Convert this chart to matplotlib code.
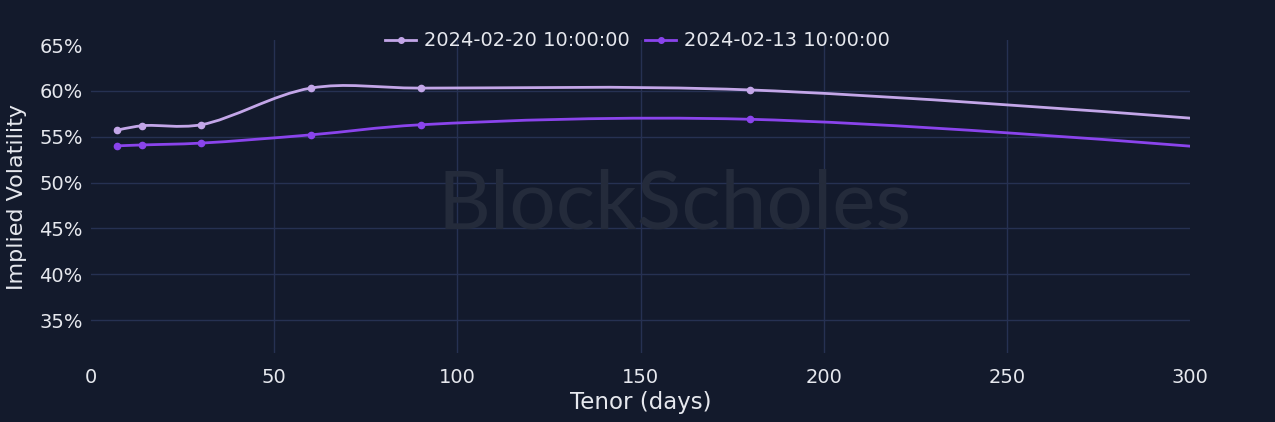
import numpy as np
import matplotlib
matplotlib.use("Agg")
import matplotlib.pyplot as plt
from matplotlib.path import Path
from matplotlib.patches import PathPatch
from matplotlib.lines import Line2D

# ---- data ----
tenor_days = [7, 14, 30, 60, 90, 180, 365]
iv_2024_02_20 = [0.557, 0.562, 0.563, 0.603, 0.603, 0.601, 0.550]
iv_2024_02_13 = [0.540, 0.541, 0.543, 0.552, 0.563, 0.569, 0.519]
series_labels = ["2024-02-20 10:00:00", "2024-02-13 10:00:00"]
y_ticks = [0.35, 0.40, 0.45, 0.50, 0.55, 0.60, 0.65]
x_ticks = [0, 50, 100, 150, 200, 250, 300]

BG = "#131a2c"
GRID = "#263152"
TXT = "#e6e8ee"
C_LIGHT = "#c3a6e8"
C_DARK = "#8a44ec"

fig = plt.figure(figsize=(12.75, 4.22), dpi=100, facecolor=BG)
ax = fig.add_axes([91/1275, 1 - 353/422, (1190-91)/1275, (353-40)/422])
ax.set_facecolor(BG)
ax.set_xlim(0, 300)
ax.set_ylim(0.314, 0.6555)

# pixel scale factors for spline tangents (plotly-like)
sx = (1190 - 91) / 300.0
sy = (353 - 40) / (0.6555 - 0.314)


def spline_path(xs, ys, smooth=1.0):
    pts = [(x * sx, y * sy) for x, y in zip(xs, ys)]

    def tangent(p0, p1, p2):
        d1x, d1y = p0[0] - p1[0], p0[1] - p1[1]
        d2x, d2y = p2[0] - p1[0], p2[1] - p1[1]
        d1a = (d1x * d1x + d1y * d1y) ** 0.25
        d2a = (d2x * d2x + d2y * d2y) ** 0.25
        numx = (d2a * d2a * d1x - d1a * d1a * d2x) * smooth
        numy = (d2a * d2a * d1y - d1a * d1a * d2y) * smooth
        den1 = 3 * d2a * (d1a + d2a)
        den2 = 3 * d1a * (d1a + d2a)
        return ((p1[0] + numx / den1, p1[1] + numy / den1),
                (p1[0] - numx / den2, p1[1] - numy / den2))

    tans = [tangent(pts[i - 1], pts[i], pts[i + 1]) for i in range(1, len(pts) - 1)]
    verts = [pts[0]]
    codes = [Path.MOVETO]
    verts += [tans[0][0], pts[1]]
    codes += [Path.CURVE3, Path.CURVE3]
    for i in range(2, len(pts) - 1):
        verts += [tans[i - 2][1], tans[i - 1][0], pts[i]]
        codes += [Path.CURVE4] * 3
    verts += [tans[-1][1], pts[-1]]
    codes += [Path.CURVE3, Path.CURVE3]
    verts = [(x / sx, y / sy) for x, y in verts]
    return Path(verts, codes)


# grid
for yt in y_ticks[:-1]:
    ax.axhline(yt, color=GRID, lw=1.0, zorder=0)
for xt in x_ticks[1:-1]:
    ax.axvline(xt, color=GRID, lw=1.0, zorder=0)

# watermark
ax.text(0.531, 0.47, "BlockScholes", transform=ax.transAxes, ha="center", va="center",
        fontsize=59, color="#242b3b", family="Lato", zorder=0.5)

for ys, col in [(iv_2024_02_13, C_DARK), (iv_2024_02_20, C_LIGHT)]:
    p = spline_path(tenor_days, ys)
    ax.add_patch(PathPatch(p, facecolor="none", edgecolor=col, lw=2.0, zorder=3))
    ax.plot(tenor_days, ys, "o", color=col, ms=4.5, zorder=4, clip_on=True)

for s in ax.spines.values():
    s.set_visible(False)
ax.set_xticks(x_ticks)
ax.set_yticks(y_ticks)
ax.set_yticklabels([f"{int(round(v*100))}%" for v in y_ticks])
ax.tick_params(colors=TXT, labelsize=14, length=0)
ax.tick_params(axis="y", pad=6)
ax.tick_params(axis="x", pad=11)
ax.set_xlabel("Tenor (days)", color=TXT, fontsize=16.5, labelpad=3)
ax.set_ylabel("Implied Volatility", color=TXT, fontsize=16, labelpad=9)

handles = [Line2D([], [], color=c, marker="o", ms=4, lw=2) for c in (C_LIGHT, C_DARK)]
leg = fig.legend(handles, series_labels, loc="center", bbox_to_anchor=(0.5, 1 - 41/422),
                 ncol=2, frameon=False, fontsize=14, labelcolor=TXT,
                 handlelength=1.6, handletextpad=0.4, columnspacing=0.8)

fig.savefig("out.png", dpi=100, facecolor=BG)
